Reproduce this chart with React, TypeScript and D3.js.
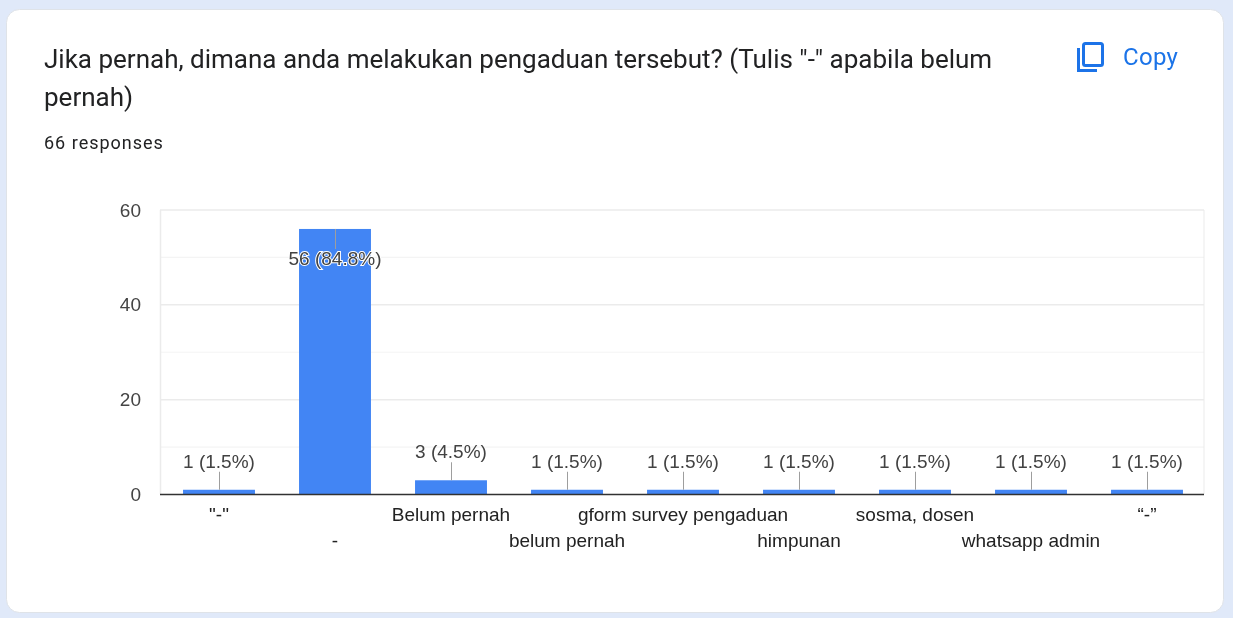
import React from "react";
import * as d3 from "d3";

const categories = ['"-"', "-", "Belum pernah", "belum pernah", "gform survey pengaduan", "himpunan", "sosma, dosen", "whatsapp admin", "\u201C-\u201D"];
const values = [1, 56, 3, 1, 1, 1, 1, 1, 1];
const valueLabels = ["1 (1.5%)", "56 (84.8%)", "3 (4.5%)", "1 (1.5%)", "1 (1.5%)", "1 (1.5%)", "1 (1.5%)", "1 (1.5%)", "1 (1.5%)"];
const majorTicks = [0, 20, 40, 60];
const minorTicks = [10, 30, 50];

const sans = "'Liberation Sans', Arial, sans-serif";
const W = 1233, H = 618;

export default function App() {
  const x = d3.scaleBand<number>().domain(d3.range(categories.length)).range([161, 1205]).paddingInner(0.38).paddingOuter(0.19);
  const y = d3.scaleLinear().domain([0, 60]).range([494.5, 210]);
  const cx = (i: number) => x(i)! + x.bandwidth() / 2;
  return (
    <svg width={W} height={H} style={{ position: "absolute", left: 0, top: 0 }}>
      <defs>
        <filter id="blur" x="-2%" y="-2%" width="104%" height="104%"><feGaussianBlur stdDeviation="0.5" /></filter>
      </defs>
      <rect width={W} height={H} fill="#e0e9f9" />
      <rect x={6.5} y={9.5} width={1217} height={603} rx={13} fill="#fff" stroke="#dfe3e8" />
      <g filter="url(#blur)">
        <g fontFamily="Roboto, sans-serif" fill="#202124" fontSize={26}>
          <text x={44} y={68}>Jika pernah, dimana anda melakukan pengaduan tersebut? (Tulis "-" apabila belum</text>
          <text x={44} y={106}>pernah)</text>
        </g>
        <text x={44} y={149} fontFamily="Roboto, sans-serif" fontSize={18} letterSpacing={1} fill="#202124">66 responses</text>
        <g fill="none" stroke="#1a73e8" strokeWidth={3}>
          <rect x={1083.5} y={43.5} width={19} height={22} rx={2} />
          <path d="M1078.5 48 V70.5 H1097" />
        </g>
        <text x={1123} y={65} fontFamily="Roboto, sans-serif" fontSize={24} letterSpacing={0.3} fill="#1a73e8">Copy</text>

        {minorTicks.map(t => <line key={t} x1={160} x2={1204} y1={y(t)} y2={y(t)} stroke="#f4f4f4" strokeWidth={1.2} />)}
        {majorTicks.filter(t => t > 0).map(t => <line key={t} x1={160} x2={1204} y1={y(t)} y2={y(t)} stroke="#ebebeb" strokeWidth={1.5} />)}
        <line x1={160.5} x2={160.5} y1={210} y2={494} stroke="#ebebeb" strokeWidth={1.5} />
        <line x1={1204} x2={1204} y1={210} y2={494} stroke="#ebebeb" strokeWidth={1} />

        {values.map((v, i) => (
          <rect key={i} x={x(i)} y={y(v)} width={x.bandwidth()} height={y(0) - y(v)} fill="#4285f4" />
        ))}
        <line x1={160} x2={1204} y1={494.5} y2={494.5} stroke="#333" strokeWidth={1.5} />

        {values.map((v, i) => {
          const big = v > 10;
          return <line key={i} x1={cx(i) + 0.5} x2={cx(i) + 0.5} y1={y(v)} y2={big ? 249 : y(v) - 18} stroke="#9e9e9e" strokeWidth={1} />;
        })}
        {valueLabels.map((l, i) => {
          const big = values[i] > 10;
          const yy = big ? 265 : y(values[i]) - 22;
          return (
            <text key={i} x={cx(i)} y={yy} textAnchor="middle" fontFamily={sans} fontSize={19} fill="#424242"
              stroke={big ? "#fff" : "none"} strokeWidth={big ? 2 : 0} paintOrder="stroke">{l}</text>
          );
        })}

        {majorTicks.map(t => (
          <text key={t} x={141} y={y(t) + 6.5} textAnchor="end" fontFamily={sans} fontSize={19} fill="#444">{t}</text>
        ))}
        {categories.map((c, i) => (
          <text key={i} x={cx(i)} y={i % 2 === 0 ? 521 : 547} textAnchor="middle" fontFamily={sans} fontSize={19} fill="#222">{c}</text>
        ))}
      </g>
    </svg>
  );
}
